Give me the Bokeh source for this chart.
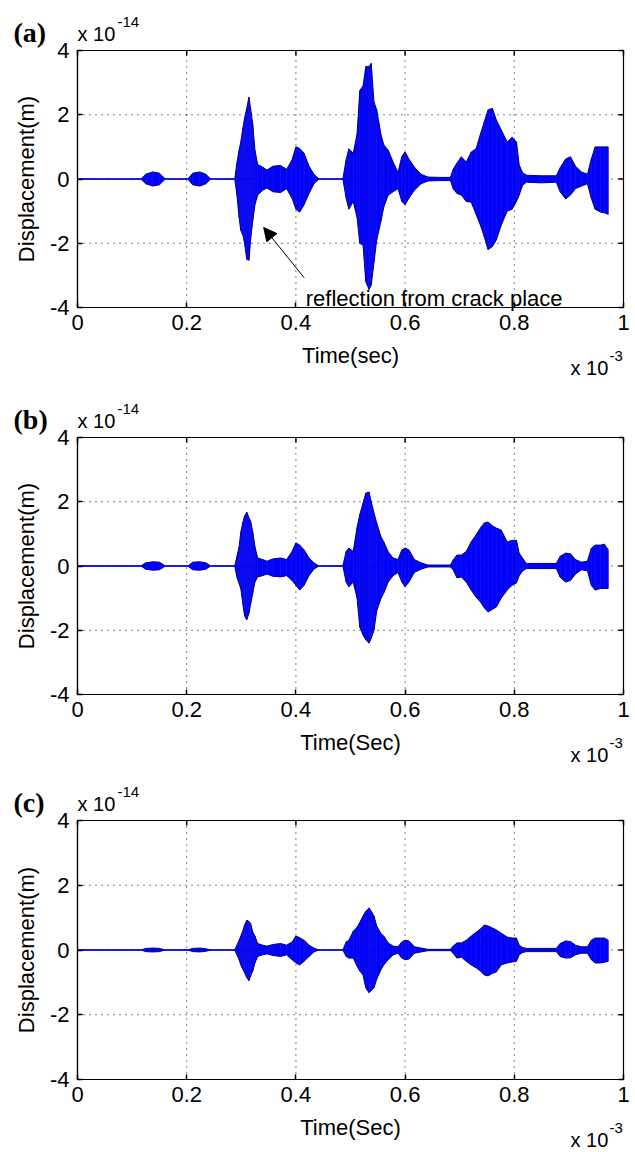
from math import pi
from bokeh.plotting import figure
from bokeh.models import FixedTicker, LinearAxis, Label, Arrow, NormalHead, ColumnDataSource, Range1d
from bokeh.layouts import column
from bokeh.embed import file_html
from bokeh.resources import INLINE

# time (x 10^-3 s) of envelope knots, shared by the three records
t_knots = [0.000, 0.116, 0.125, 0.138, 0.150, 0.161, 0.202, 0.211, 0.224, 0.235,
           0.244, 0.288, 0.292, 0.296, 0.299, 0.303, 0.306, 0.310, 0.314, 0.317,
           0.321, 0.325, 0.330, 0.339, 0.347, 0.358, 0.372, 0.383, 0.393, 0.400,
           0.407, 0.415, 0.424, 0.433, 0.442, 0.486, 0.492, 0.497, 0.505, 0.512,
           0.517, 0.523, 0.528, 0.534, 0.538, 0.543, 0.548, 0.556, 0.561, 0.569,
           0.578, 0.587, 0.594, 0.600, 0.607, 0.617, 0.629, 0.642, 0.666, 0.683,
           0.688, 0.695, 0.703, 0.712, 0.721, 0.730, 0.738, 0.745, 0.752, 0.760,
           0.767, 0.776, 0.787, 0.796, 0.804, 0.809, 0.815, 0.822, 0.850, 0.877,
           0.884, 0.894, 0.903, 0.912, 0.923, 0.934, 0.941, 0.948, 0.958, 0.965,
           0.972]

# displacement envelopes (x 10^-14 m)
a_upper = [0, 0, 0.15, 0.22, 0.18, 0, 0, 0.18, 0.22, 0.15,
           0, 0, 0.5, 0.9, 1.15, 1.6, 1.9, 2.2, 2.55, 2.2,
           1.7, 0.9, 0.45, 0.37, 0.28, 0.4, 0.42, 0.3, 0.6, 1.0,
           0.95, 0.8, 0.4, 0.15, 0, 0, 0.6, 0.94, 0.8, 1.4,
           2.75, 2.9, 3.5, 3.5, 3.6, 2.4, 2.15, 1.37, 1.06, 0.9,
           0.53, 0.2, 0.7, 0.84, 0.62, 0.37, 0.15, 0.06, 0.05, 0.05,
           0.3, 0.5, 0.69, 0.53, 0.84, 0.94, 1.4, 1.78, 2.15, 2.2,
           1.84, 1.53, 1.15, 1.3, 1.15, 0.44, 0.2, 0.12, 0.1, 0.1,
           0.35, 0.62, 0.69, 0.4, 0.22, 0.15, 0.62, 1.0, 1.0, 1.0,
           1.0]
a_lower = [0, 0, -0.15, -0.22, -0.18, 0, 0, -0.18, -0.22, -0.15,
           0, 0, -0.5, -1.2, -1.6, -1.75, -2.0, -2.5, -2.53, -1.9,
           -1.3, -0.8, -0.5, -0.35, -0.28, -0.4, -0.42, -0.3, -0.6, -0.94,
           -1.03, -0.8, -0.45, -0.15, 0, 0, -0.6, -0.94, -0.7, -1.2,
           -2.0, -2.06, -3.2, -3.44, -3.3, -2.6, -1.9, -1.3, -0.87, -0.5,
           -0.4, -0.3, -0.7, -0.8, -0.6, -0.35, -0.15, -0.06, -0.05, -0.05,
           -0.3, -0.45, -0.5, -0.7, -0.72, -1.1, -1.44, -1.8, -2.2, -2.1,
           -1.9, -1.44, -1.0, -0.94, -0.7, -0.5, -0.2, -0.1, -0.12, -0.1,
           -0.4, -0.62, -0.5, -0.3, -0.22, -0.15, -0.6, -0.94, -1.03, -1.05,
           -1.1]

b_upper = [0, 0, 0.10, 0.13, 0.12, 0, 0, 0.12, 0.13, 0.10,
           0, 0, 0.3, 0.6, 1.05, 1.37, 1.55, 1.68, 1.5, 1.4,
           1.06, 0.6, 0.25, 0.2, 0.15, 0.22, 0.25, 0.2, 0.45, 0.72,
           0.65, 0.5, 0.25, 0.1, 0, 0, 0.45, 0.56, 0.45, 1.2,
           1.6, 1.96, 2.27, 2.3, 2.0, 1.65, 1.34, 0.9, 0.75, 0.44,
           0.25, 0.2, 0.5, 0.56, 0.5, 0.2, 0.1, 0.03, 0.03, 0.03,
           0.19, 0.34, 0.34, 0.45, 0.75, 0.97, 1.18, 1.34, 1.37, 1.25,
           1.18, 1.12, 0.75, 0.8, 0.8, 0.4, 0.25, 0.08, 0.08, 0.08,
           0.3, 0.4, 0.38, 0.2, 0.12, 0.15, 0.55, 0.65, 0.65, 0.68,
           0.5]
b_lower = [0, 0, -0.10, -0.13, -0.12, 0, 0, -0.12, -0.13, -0.10,
           0, 0, -0.35, -0.55, -0.7, -1.2, -1.55, -1.68, -1.47, -1.2,
           -0.84, -0.5, -0.34, -0.3, -0.25, -0.32, -0.34, -0.3, -0.45, -0.6,
           -0.75, -0.6, -0.3, -0.1, 0, 0, -0.5, -0.65, -0.5, -1.0,
           -1.9, -2.15, -2.3, -2.4, -2.25, -2.0, -1.4, -1.0, -0.84, -0.5,
           -0.3, -0.2, -0.5, -0.65, -0.5, -0.2, -0.1, -0.03, -0.03, -0.03,
           -0.12, -0.37, -0.34, -0.5, -0.75, -0.97, -1.12, -1.3, -1.43, -1.35,
           -1.28, -1.0, -0.75, -0.6, -0.53, -0.3, -0.16, -0.08, -0.08, -0.08,
           -0.35, -0.5, -0.45, -0.25, -0.12, -0.15, -0.6, -0.75, -0.7, -0.7,
           -0.7]

c_upper = [0, 0, 0.05, 0.06, 0.05, 0, 0, 0.05, 0.06, 0.04,
           0, 0, 0.15, 0.3, 0.43, 0.6, 0.77, 0.92, 0.88, 0.83,
           0.55, 0.43, 0.2, 0.15, 0.12, 0.17, 0.2, 0.15, 0.25, 0.43,
           0.38, 0.3, 0.15, 0.06, 0, 0, 0.25, 0.3, 0.58, 0.7,
           0.85, 1.05, 1.2, 1.3, 1.2, 1.05, 0.74, 0.5, 0.43, 0.22,
           0.12, 0.1, 0.25, 0.3, 0.28, 0.1, 0.06, 0.02, 0.02, 0.02,
           0.12, 0.22, 0.22, 0.3, 0.43, 0.55, 0.65, 0.77, 0.74, 0.68,
           0.62, 0.52, 0.4, 0.37, 0.37, 0.15, 0.08, 0.05, 0.05, 0.05,
           0.2, 0.28, 0.26, 0.15, 0.1, 0.1, 0.3, 0.37, 0.37, 0.37,
           0.3]
c_lower = [0, 0, -0.05, -0.06, -0.05, 0, 0, -0.05, -0.06, -0.04,
           0, 0, -0.15, -0.3, -0.46, -0.6, -0.7, -0.85, -0.95, -0.8,
           -0.65, -0.4, -0.2, -0.15, -0.12, -0.17, -0.2, -0.15, -0.3, -0.4,
           -0.46, -0.35, -0.2, -0.06, 0, 0, -0.2, -0.25, -0.25, -0.5,
           -0.65, -0.77, -1.17, -1.32, -1.25, -1.17, -0.9, -0.6, -0.46, -0.3,
           -0.15, -0.1, -0.25, -0.3, -0.28, -0.1, -0.06, -0.02, -0.02, -0.02,
           -0.1, -0.25, -0.22, -0.35, -0.46, -0.55, -0.65, -0.77, -0.8, -0.72,
           -0.68, -0.46, -0.4, -0.37, -0.35, -0.15, -0.08, -0.05, -0.05, -0.05,
           -0.2, -0.25, -0.24, -0.15, -0.1, -0.1, -0.3, -0.4, -0.4, -0.38,
           -0.35]

x_ticks = [0, 0.2, 0.4, 0.6, 0.8, 1]
x_tick_labels = ["0", "0.2", "0.4", "0.6", "0.8", "1"]
y_ticks = [-4, -2, 0, 2, 4]
y_tick_labels = ["-4", "-2", "0", "2", "4"]

FONT = "Liberation Sans"
SERIF = "Liberation Serif"
BLUE = "#0000FF"
NAVY = "#00008C"

W = 633            # figure width (px)
BOX_LEFT = 77      # left edge of the axes box (px)
BOX_W = 546        # width of the axes box (px)


def style_axis(ax):
    ax.axis_line_color = "black"
    ax.axis_line_width = 1.2
    ax.major_tick_in = 5
    ax.major_tick_out = 0
    ax.major_tick_line_color = "black"
    ax.major_tick_line_width = 1.5
    ax.minor_tick_line_color = None
    ax.major_label_text_font = FONT
    ax.major_label_text_font_size = "22px"
    ax.major_label_text_color = "black"
    ax.axis_label_text_font = FONT
    ax.axis_label_text_font_size = "22px"
    ax.axis_label_text_font_style = "normal"
    ax.axis_label_text_color = "black"


def make_panel(tag, upper, lower, xlabel, H, box_top, box_h, annotate=False):
    x0, x1 = x_ticks[0], x_ticks[-1]
    y0, y1 = y_ticks[0], y_ticks[-1]
    sx = BOX_W / (x1 - x0)
    sy = box_h / (y1 - y0)
    box_bottom_gap = H - box_top - box_h
    p = figure(width=W, height=H,
               x_range=Range1d(x0 - BOX_LEFT / sx, x1 + (W - BOX_LEFT - BOX_W) / sx),
               y_range=Range1d(y0 - box_bottom_gap / sy, y1 + box_top / sy),
               x_axis_location=None, y_axis_location=None,
               min_border=0, output_backend="svg", toolbar_location=None)
    p.background_fill_color = "white"
    p.border_fill_color = "white"
    p.outline_line_color = None
    p.xgrid.visible = False
    p.ygrid.visible = False

    # dotted grid at the inner ticks
    gx = x_ticks[1:-1]
    gy = y_ticks[1:-1]
    p.segment(x0=gx, y0=[y0] * len(gx), x1=gx, y1=[y1] * len(gx),
              line_color="black", line_dash="1 5", line_width=1)
    p.segment(x0=[x0] * len(gy), y0=gy, x1=[x1] * len(gy), y1=gy,
              line_color="black", line_dash="1 5", line_width=1)

    # signal
    src = ColumnDataSource(dict(t=t_knots, up=upper, lo=lower, zero=[0.0] * len(t_knots)))
    p.varea(x="t", y1="lo", y2="up", source=src, fill_color=BLUE)
    p.segment(x0="t", y0="lo", x1="t", y1="up", source=src, line_color="#1515E0", line_width=1)
    p.line(x="t", y="up", source=src, line_color=NAVY, line_width=1)
    p.line(x="t", y="lo", source=src, line_color=NAVY, line_width=1)
    p.line(x="t", y="zero", source=src, line_color=BLUE, line_width=1.2)

    # axes box
    p.quad(left=[x0], right=[x1], bottom=[y0], top=[y1], fill_color=None,
           line_color="black", line_width=1.2)
    # inward ticks on top and right edges
    p.ray(x=x_ticks, y=[y1] * len(x_ticks), length=5, length_units="screen",
          angle=-pi / 2, line_color="black", line_width=1.5)
    p.ray(x=[x1] * len(y_ticks), y=y_ticks, length=5, length_units="screen",
          angle=pi, line_color="black", line_width=1.5)

    xax = LinearAxis(fixed_location=y0, bounds=(x0, x1), ticker=FixedTicker(ticks=x_ticks),
                     axis_label=xlabel)
    yax = LinearAxis(fixed_location=x0, bounds=(y0, y1), ticker=FixedTicker(ticks=y_ticks),
                     axis_label="Displacement(m)")
    xax.major_label_overrides = dict(zip(x_ticks, x_tick_labels))
    yax.major_label_overrides = dict(zip(y_ticks, y_tick_labels))
    style_axis(xax)
    style_axis(yax)
    xax.major_label_standoff = 7
    yax.major_label_standoff = 8
    xax.axis_label_standoff = 10
    yax.axis_label_standoff = 8
    p.add_layout(xax, "below")
    p.add_layout(yax, "left")

    kw = dict(text_color="black", text_baseline="alphabetic")
    p.add_layout(Label(x=x0 - 64 / sx, y=y1 + 18 / sy, text=tag, text_font=SERIF,
                       text_font_style="bold", text_font_size="28px", **kw))
    p.add_layout(Label(x=x0, y=y1 + 17 / sy, text="x 10", text_font=FONT,
                       text_font_size="20px", **kw))
    p.add_layout(Label(x=x0 + 40 / sx, y=y1 + 29 / sy, text="-14", text_font=FONT,
                       text_font_size="15px", **kw))
    p.add_layout(Label(x=x1 - 53 / sx, y=y0 - 60 / sy, text="x 10", text_font=FONT,
                       text_font_size="20px", **kw))
    p.add_layout(Label(x=x1 - 14 / sx, y=y0 - 48 / sy, text="-3", text_font=FONT,
                       text_font_size="15px", **kw))

    if annotate:
        p.add_layout(Arrow(end=NormalHead(size=13, fill_color="black", line_color="black"),
                           x_start=0.415, y_start=-3.07, x_end=0.341, y_end=-1.51,
                           line_color="black", line_width=1))
        p.add_layout(Label(x=0.418, y=-3.72, text="reflection from crack place", text_font=FONT,
                           text_font_size="22px", **kw))
    return p


pa = make_panel("(a)", a_upper, a_lower, "Time(sec)", 387, 50, 257, annotate=True)
pb = make_panel("(b)", b_upper, b_lower, "Time(Sec)", 385, 50, 257)
pc = make_panel("(c)", c_upper, c_lower, "Time(Sec)", 378, 48, 259)

layout = column(pa, pb, pc, spacing=0)
open("out.html", "w").write(file_html(layout, INLINE))
